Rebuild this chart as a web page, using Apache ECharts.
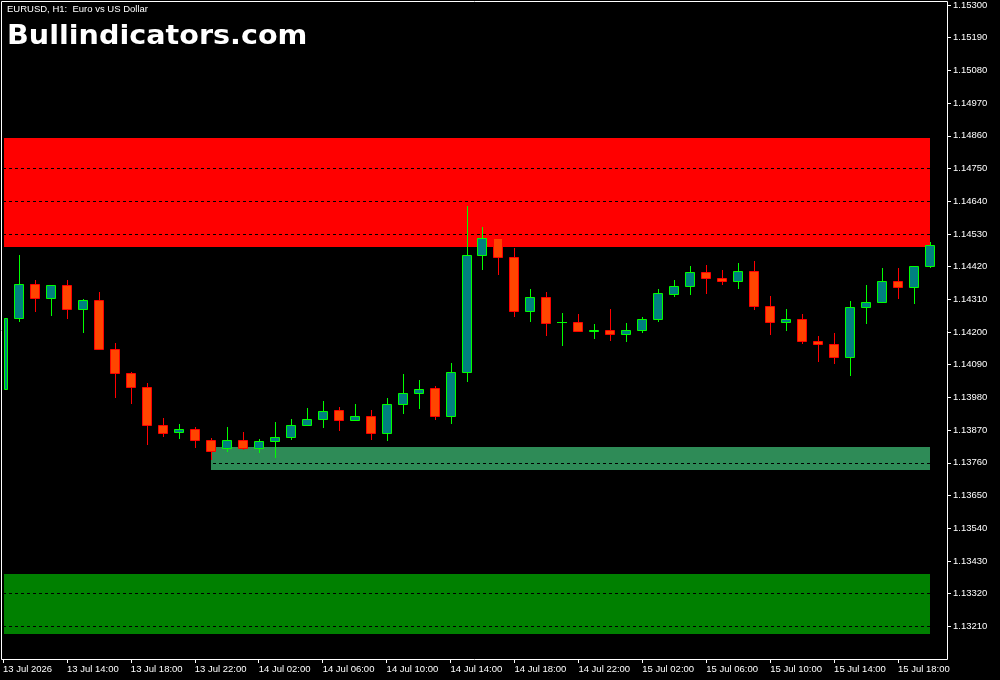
<!DOCTYPE html>
<html>
<head>
<meta charset="utf-8">
<script src="https://cdn.jsdelivr.net/npm/echarts@6/dist/echarts.min.js"></script>
<style>
html,body{margin:0;padding:0;background:#000;}
#chart{width:1000px;height:680px;}
</style>
</head>
<body>
<div id="chart"></div>
<script>
// ---------- DATA (EURUSD H1, bar 0 = 13 Jul 10:00) ----------
const openP = [1.14007,1.14246,1.14360,1.14313,1.14357,1.14276,1.14307,1.14142,1.14061,1.14014,
  1.13886,1.13863,1.13873,1.13836,1.13809,1.13836,1.13809,1.13832,1.13846,1.13886,
  1.13906,1.13937,1.13903,1.13916,1.13859,1.13957,1.13994,1.14011,1.13916,1.14064,
  1.14458,1.14515,1.14451,1.14270,1.14317,1.14233,1.14233,1.14203,1.14206,1.14192,
  1.14206,1.14243,1.14327,1.14354,1.14401,1.14381,1.14371,1.14404,1.14286,1.14233,
  1.14243,1.14169,1.14159,1.14115,1.14283,1.14300,1.14371,1.14350,1.14421];
const closeP = [1.14246,1.14360,1.14313,1.14357,1.14276,1.14307,1.14142,1.14061,1.14014,1.13886,
  1.13859,1.13873,1.13836,1.13799,1.13836,1.13809,1.13832,1.13846,1.13886,1.13906,
  1.13933,1.13903,1.13916,1.13859,1.13957,1.13994,1.14007,1.13916,1.14064,1.14458,
  1.14515,1.14451,1.14270,1.14317,1.14231,1.14233,1.14202,1.14206,1.14192,1.14206,
  1.14243,1.14330,1.14354,1.14401,1.14381,1.14371,1.14404,1.14286,1.14233,1.14243,
  1.14169,1.14159,1.14115,1.14283,1.14300,1.14371,1.14350,1.14421,1.14492];
const highP = [1.14261,1.14459,1.14375,1.14357,1.14375,1.14311,1.14335,1.14163,1.14065,1.14027,
  1.13911,1.13891,1.13880,1.13842,1.13880,1.13864,1.13840,1.13897,1.13907,1.13944,
  1.13968,1.13947,1.13958,1.13938,1.13978,1.14059,1.14039,1.14018,1.14096,1.14624,
  1.14552,1.14523,1.14483,1.14344,1.14335,1.14264,1.14261,1.14227,1.14277,1.14230,
  1.14249,1.14344,1.14375,1.14422,1.14425,1.14409,1.14432,1.14439,1.14321,1.14277,
  1.14261,1.14187,1.14197,1.14304,1.14358,1.14415,1.14415,1.14421,1.14502];
const lowP = [1.13995,1.14238,1.14272,1.14258,1.14248,1.14201,1.14142,1.13982,1.13962,1.13824,
  1.13851,1.13844,1.13814,1.13772,1.13801,1.13805,1.13797,1.13781,1.13841,1.13886,
  1.13881,1.13871,1.13903,1.13841,1.13838,1.13929,1.13945,1.13908,1.13895,1.14036,
  1.14413,1.14396,1.14255,1.14238,1.14190,1.14156,1.14202,1.14181,1.14174,1.14171,
  1.14199,1.14238,1.14322,1.14329,1.14332,1.14362,1.14349,1.14277,1.14194,1.14208,
  1.14164,1.14103,1.14097,1.14056,1.14231,1.14300,1.14315,1.14299,1.14418];

// zones (supply / demand rectangles), in bar index and price
const zoneStart = [-1, -1, 13];
const zoneEnd   = [58, 58, 58];
const zoneHigh  = [1.14853, 1.13386, 1.13813];
const zoneLow   = [1.14486, 1.13184, 1.13737];

// axis ticks
const xTickIndex  = [0,4,8,12,16,20,24,28,32,36,40,44,48,52,56];
const xTickLabels = ['13 Jul 2026','13 Jul 14:00','13 Jul 18:00','13 Jul 22:00','14 Jul 02:00',
  '14 Jul 06:00','14 Jul 10:00','14 Jul 14:00','14 Jul 18:00','14 Jul 22:00','15 Jul 02:00',
  '15 Jul 06:00','15 Jul 10:00','15 Jul 14:00','15 Jul 18:00'];
const yTickLabels = ['1.13210','1.13320','1.13430','1.13540','1.13650','1.13760','1.13870',
  '1.13980','1.14090','1.14200','1.14310','1.14420','1.14530','1.14640','1.14750','1.14860',
  '1.14970','1.15080','1.15190','1.15300'];

const headerText = 'EURUSD, H1:  Euro vs US Dollar';
const brandText = 'Bullindicators.com';

// ---------- STYLE ----------
const zoneColors = ['#FF0000', '#008000', '#2E8B57'];
const bullLine = '#00FF00', bullFill = '#008080';
const bearLine = '#FF0000', bearFill = '#FF4500';
const bodyHalf = 5;

const yTickValues = yTickLabels.map(Number);

const candleData = openP.map((o, i) => [i, o, closeP[i], lowP[i], highP[i]]);
const zoneData = zoneStart.map((s, i) => [s, zoneEnd[i], zoneHigh[i], zoneLow[i], i]);

function renderZone(params, api) {
  const cs = params.coordSys;
  const p1 = api.coord([api.value(0), api.value(2)]);
  const p2 = api.coord([api.value(1), api.value(3)]);
  const x0 = Math.max(Math.round(p1[0]), cs.x + 1);
  const x1 = Math.round(p2[0]);
  const y0 = Math.round(p1[1]), y1 = Math.round(p2[1]);
  return {
    type: 'rect',
    shape: { x: x0, y: y0, width: x1 - x0, height: y1 - y0 },
    style: { fill: zoneColors[api.value(4)] }
  };
}

function renderCandle(params, api) {
  const cs = params.coordSys;
  const i = api.value(0), o = api.value(1), c = api.value(2), l = api.value(3), h = api.value(4);
  const cx = Math.round(api.coord([i, o])[0]);
  const yo = api.coord([i, o])[1], yc = api.coord([i, c])[1];
  const yl = Math.round(api.coord([i, l])[1]), yh = Math.round(api.coord([i, h])[1]);
  const bull = c >= o;
  const stroke = bull ? bullLine : bearLine;
  const fill = bull ? bullFill : bearFill;
  const top = Math.round(Math.min(yo, yc)), bot = Math.round(Math.max(yo, yc));
  const left = Math.max(cx - bodyHalf, cs.x + 1);
  const right = cx + bodyHalf;
  const children = [];
  if (cx > cs.x + 1) {
    children.push({ type: 'rect', shape: { x: cx, y: yh, width: 1, height: yl - yh + 1 },
      style: { fill: stroke } });
  }
  if (bot - top < 1) {
    children.push({ type: 'rect', shape: { x: left, y: top, width: right - left, height: 1 },
      style: { fill: stroke } });
  } else {
    children.push({ type: 'rect',
      shape: { x: left + 0.5, y: top + 0.5, width: right - left - 1, height: bot - top },
      style: { fill: fill, stroke: stroke, lineWidth: 1 } });
  }
  return { type: 'group', children: children };
}

const chart = echarts.init(document.getElementById('chart'), null, { renderer: 'canvas' });
chart.setOption({
  backgroundColor: '#000',
  animation: false,
  grid: { left: 2, right: 53, top: 2, bottom: 21, show: false },
  xAxis: {
    type: 'value', min: 0, max: 945 / 16, interval: 4, z: 1.5,
    axisLine: { show: false, onZero: false },
    axisTick: { show: true, length: 4, lineStyle: { color: '#fff' }, customValues: xTickIndex },
    axisLabel: {
      show: true, color: '#fff', fontFamily: 'Liberation Sans', fontSize: 9.5, align: 'left', margin: 5,
      customValues: xTickIndex,
      formatter: v => { const k = xTickIndex.indexOf(Math.round(v)); return k >= 0 ? xTickLabels[k] : ''; }
    },
    splitLine: { show: false }
  },
  yAxis: {
    type: 'value', position: 'right', min: 1.131, max: 1.1531, interval: 0.0011, z: 1.5,
    axisLine: { show: false, onZero: false },
    axisTick: { show: true, inside: false, length: 4, lineStyle: { color: '#fff' }, customValues: yTickValues },
    axisLabel: {
      show: true, color: '#fff', fontFamily: 'Liberation Sans', fontSize: 9.5, margin: 6,
      customValues: yTickValues,
      formatter: v => {
        let best = -1, bd = 1e9;
        yTickValues.forEach((t, k) => { const d = Math.abs(t - v); if (d < bd) { bd = d; best = k; } });
        return bd < 1e-6 ? yTickLabels[best] : '';
      }
    },
    splitLine: { show: true, lineStyle: { color: '#000', width: 1, type: [3, 3] } }
  },
  graphic: [
    { type: 'rect', z: 20, silent: true,
      shape: { x: 1.5, y: 1.5, width: 946, height: 658 },
      style: { fill: null, stroke: '#fff', lineWidth: 1 } },
    { type: 'text', x: 7, y: 4, z: 10,
      style: { text: headerText, fill: '#fff', font: '9.5px "Liberation Sans"', verticalAlign: 'top' } },
    { type: 'text', x: 7, y: 23, scaleX: 1.06, z: 10,
      style: { text: brandText, fill: '#fff', font: 'bold 27px "DejaVu Sans"', verticalAlign: 'top' } }
  ],
  series: [
    { type: 'custom', name: 'zones', z: 1, clip: true, renderItem: renderZone,
      encode: { x: [0, 1], y: [2, 3] }, data: zoneData, silent: true },
    { type: 'custom', name: 'EURUSD', z: 3, clip: true, renderItem: renderCandle,
      encode: { x: 0, y: [1, 2, 3, 4] }, data: candleData, silent: true }
  ]
});
</script>
</body>
</html>
